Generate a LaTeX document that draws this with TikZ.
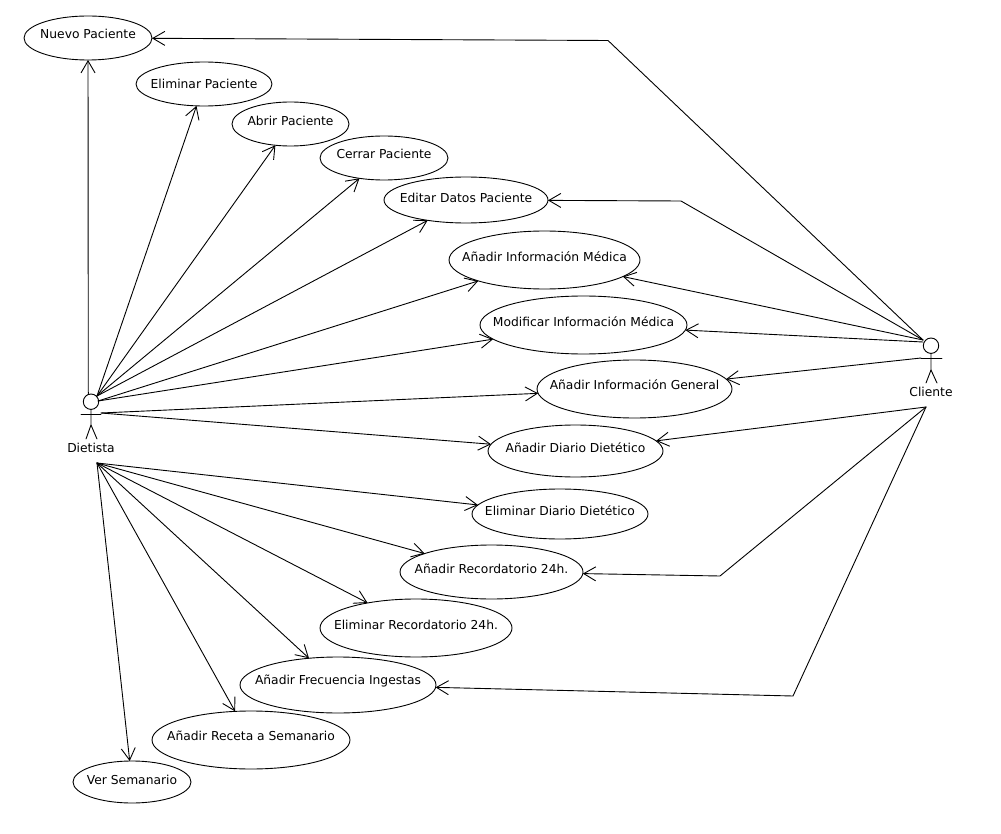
\documentclass[tikz,border=0pt]{standalone}
\usepackage{fontspec}
\setmainfont{DejaVu Sans}
\usetikzlibrary{arrows.meta}
\usetikzlibrary{shapes.geometric}

\tikzset{
  usecase/.style={draw,ellipse,inner sep=0pt,outer sep=0pt,line width=0.9pt},
  casetext/.style={inner sep=0pt,font=\fontsize{12.3}{14}\selectfont},
  actorhead/.style={draw,circle,minimum size=15.4pt,inner sep=0pt,outer sep=0pt,line width=0.9pt},
  actorname/.style={inner sep=0pt,font=\fontsize{12.3}{14}\selectfont}
}

\begin{document}
\begin{tikzpicture}[x=1pt,y=-1pt,line cap=round,line join=round,>={Straight Barb[length=12pt,width=14pt]},line width=0.9pt]
\useasboundingbox (0,0) rectangle (1001,834);
\fill[white] (0,0) rectangle (1001,834);
% casos de uso
\foreach \name/\cx/\cy/\rx/\ry/\dy/\txt in {
  nuevo/88/38/64/22/-4/Nuevo Paciente,
  eliminar/204/84/68/22/0/Eliminar Paciente,
  abrir/290.5/124/58.5/22/-3/Abrir Paciente,
  cerrar/384/158/64/22/-4/Cerrar Paciente,
  editar/466/200/82/23/-2/Editar Datos Paciente,
  medica/544.5/260/95.5/29/-3/Añadir Información Médica,
  modificar/583.5/325/103.5/29/-3/Modificar Información Médica,
  general/634.5/389/97.5/29/-4/Añadir Información General,
  diario/575.5/451/87.5/26/-3/Añadir Diario Dietético,
  eliminardiario/560/514/88/25/-3/Eliminar Diario Dietético,
  recordatorio/491.5/572/91.5/27/-3/Añadir Recordatorio 24h.,
  eliminarrecord/416/628/96/29/-3/Eliminar Recordatorio 24h.,
  frecuencia/338/685/98/28/-4/Añadir Frecuencia Ingestas,
  receta/251/740/99/29/-4/Añadir Receta a Semanario,
  semanario/132/782/59/21/-2/Ver Semanario}
{
  \node[usecase,minimum width=2*\rx pt,minimum height=2*\ry pt] (\name) at (\cx,\cy) {};
  \node[casetext] (\name text) at (\cx,\cy+\dy) {\txt};
}
% actores
\node[actorhead] (dietista) at (91,401.7) {};
\node[actorname] (dietistaname) at (91,447.5) {Dietista};
\draw (dietista.south) -- (91,425) -- (86,439);
\draw (91,425) -- (97,439);
\draw (81,414) -- (101,414);
\node[actorhead] (cliente) at (931,345.7) {};
\node[actorname] (clientename) at (931,391.5) {Cliente};
\draw (cliente.south) -- (931,370) -- (926,383);
\draw (931,370) -- (937,383);
\draw (921,358) -- (942,358);
% puntos de salida y codos
\coordinate (dietistaup) at (88.3,393.5);
\coordinate (dietistatop) at (97,396);
\coordinate (dietistamid) at (98,401);
\coordinate (dietistaarm) at (101,413);
\coordinate (dietistalow) at (97,463);
\coordinate (clientetop) at (923,340);
\coordinate (clientemid) at (923,342);
\coordinate (clientearm) at (921,358);
\coordinate (clientelow) at (926,407);
\coordinate (codonuevo) at (608,40.5);
\coordinate (codoeditar) at (681,201);
\coordinate (cododrecord) at (720,576);
\coordinate (codofrec) at (793,696);
% asociaciones
\foreach \from/\to in {
  dietistaup/nuevo,dietistatop/eliminar,dietistatop/abrir,dietistatop/cerrar,dietistatop/editar,
  dietistamid/medica,dietistamid/modificar,dietistaarm/general,dietistaarm/diario,
  dietistalow/eliminardiario,dietistalow/recordatorio,dietistalow/eliminarrecord,
  dietistalow/frecuencia,dietistalow/receta,dietistalow/semanario,
  clientetop/medica,clientemid/modificar,clientearm/general,clientelow/diario}
\draw[->] (\from) -- (\to);
\draw[->] (clientetop) -- (codonuevo) -- (nuevo);
\draw[->] (clientetop) -- (codoeditar) -- (editar);
\draw[->] (clientelow) -- (cododrecord) -- (recordatorio);
\draw[->] (clientelow) -- (codofrec) -- (frecuencia);
\end{tikzpicture}
\end{document}
